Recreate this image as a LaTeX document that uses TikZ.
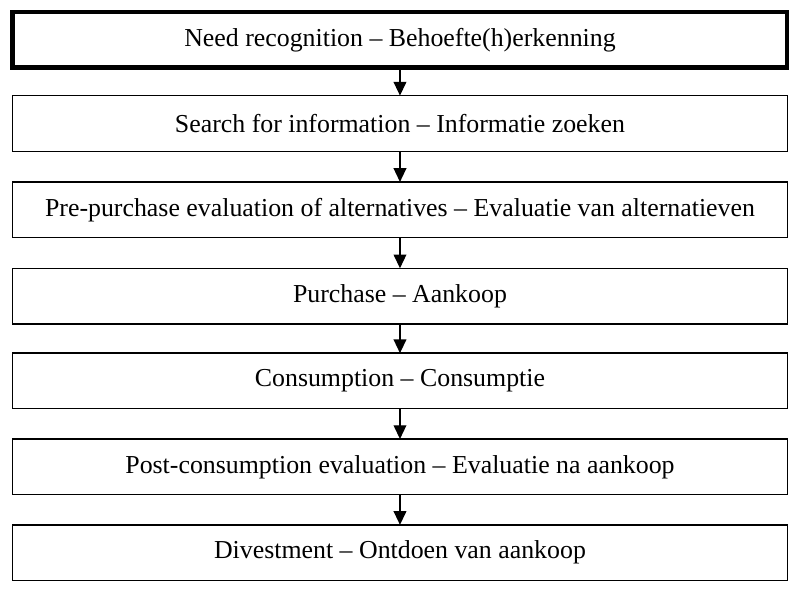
\documentclass[tikz,border=0pt]{standalone}
\usepackage{fontspec}
\setmainfont{Liberation Serif}
\usetikzlibrary{arrows.meta}
\begin{document}
\begin{tikzpicture}[x=0.9756pt,y=-0.9756pt,
  box/.style={draw=black, line width=1.37pt, rectangle, minimum width=774.6pt, minimum height=55.6pt, inner sep=0pt, outer sep=0pt, font=\fontsize{25.85}{30}\selectfont},
  thickbox/.style={box, line width=4.4pt, minimum height=55.1pt},
  arr/.style={draw=black, line width=1.37pt, -{Triangle[length=13.7pt,width=12.7pt]}}]
\useasboundingbox (0,0) rectangle (818,604.75);
\node[thickbox] (b1) at (410,40.75) {Need recognition – Behoefte(h)erkenning};
\node[box] (b2) at (410,126.5) {Search for information – Informatie zoeken};
\node[box] (b3) at (410,215) {Pre-purchase evaluation of alternatives – Evaluatie van alternatieven};
\node[box] (b4) at (410,303.5) {Purchase – Aankoop};
\node[box] (b5) at (410,390.5) {Consumption – Consumptie};
\node[box] (b6) at (410,478.5) {Post-consumption evaluation – Evaluatie na aankoop};
\node[box] (b7) at (410,566.5) {Divestment – Ontdoen van aankoop};
\draw[arr] (b1.south) -- (b2.north);
\draw[arr] (b2.south) -- (b3.north);
\draw[arr] (b3.south) -- (b4.north);
\draw[arr] (b4.south) -- (b5.north);
\draw[arr] (b5.south) -- (b6.north);
\draw[arr] (b6.south) -- (b7.north);
\end{tikzpicture}
\end{document}
